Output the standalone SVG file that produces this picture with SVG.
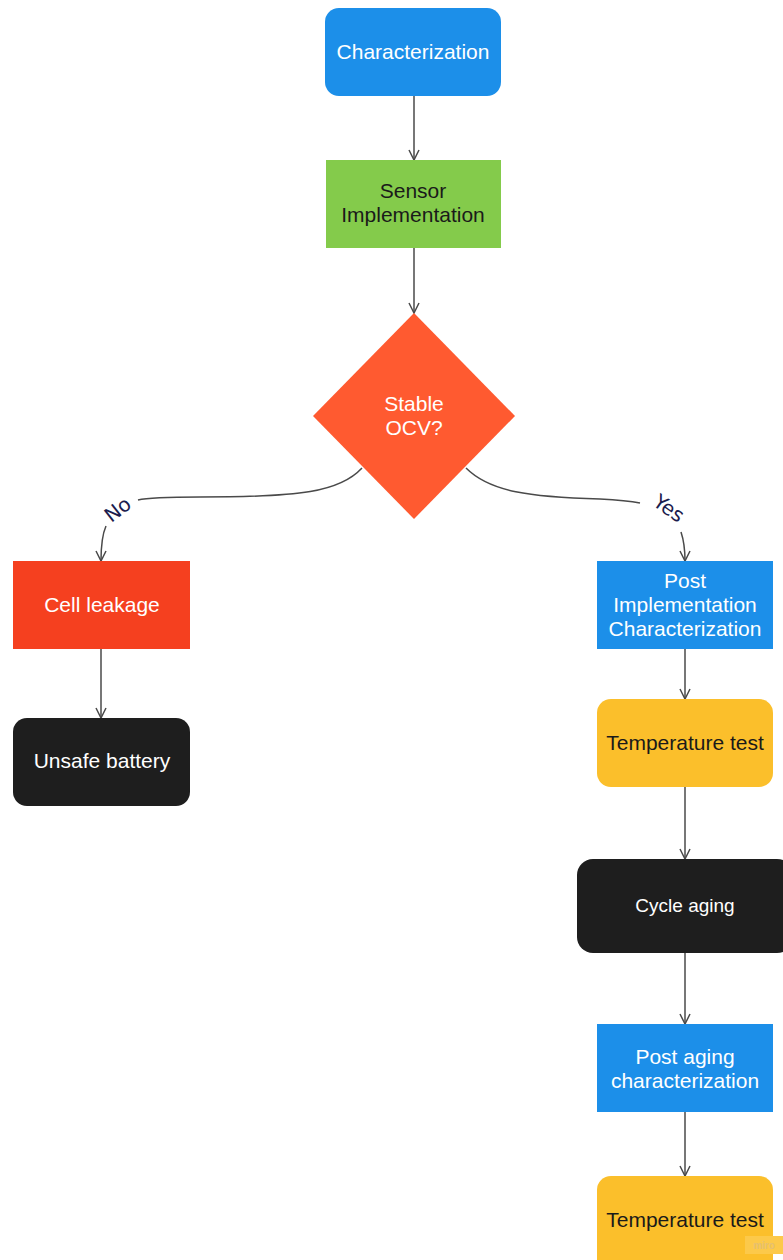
<svg xmlns="http://www.w3.org/2000/svg" width="783" height="1260" viewBox="0 0 783 1260">
<style>
.t{font-family:"Liberation Sans",Arial,sans-serif;font-size:21px;text-anchor:middle}
.w{fill:#ffffff}
.d{fill:#1a1a1a}
.c{fill:none;stroke:#4a4a4a;stroke-width:1.5}
.lbl{font-family:"DejaVu Sans",sans-serif;font-size:20px;fill:#1c1c4e;text-anchor:middle}
</style>
<defs>
<marker id="ah" viewBox="0 0 12 12" refX="11" refY="6" markerWidth="12" markerHeight="12" markerUnits="userSpaceOnUse" orient="auto">
<path d="M1,1 L11,6 L1,11" fill="none" stroke="#4a4a4a" stroke-width="1.5"/>
</marker>
</defs>
<rect width="783" height="1260" fill="#ffffff"/>
<g id="connectors">
<path class="c" d="M414,96 V160" marker-end="url(#ah)"/>
<path class="c" d="M414,248 V313" marker-end="url(#ah)"/>
<path class="c" d="M362,468 C340,492 300,497 200,497 C160,497 146,498 138,500"/>
<path class="c" d="M106,526 C102,535 101,545 101,561" marker-end="url(#ah)"/>
<path class="c" d="M466,468 C490,492 530,497 600,499 C620,500 630,501 640,503"/>
<path class="c" d="M681,532 C684,541 685,550 685,561" marker-end="url(#ah)"/>
<text class="lbl" transform="translate(122,515) rotate(-38)">No</text>
<text class="lbl" transform="translate(665,514) rotate(35)">Yes</text>
<path class="c" d="M101,649 V718" marker-end="url(#ah)"/>
<path class="c" d="M685,649 V699" marker-end="url(#ah)"/>
<path class="c" d="M685,787 V859" marker-end="url(#ah)"/>
<path class="c" d="M685,953 V1024" marker-end="url(#ah)"/>
<path class="c" d="M685,1112 V1176" marker-end="url(#ah)"/>
</g>
<g id="characterization">
<rect x="325" y="8" width="176" height="88" rx="14" fill="#1c8fe9"/>
<text class="t w" x="413" y="59">Characterization</text>
</g>
<g id="sensor-implementation">
<rect x="326" y="160" width="175" height="88" fill="#84cb4b"/>
<text class="t d" x="413" y="198">Sensor</text>
<text class="t d" x="413" y="222">Implementation</text>
</g>
<g id="stable-ocv">
<polygon points="414,313 515,416 414,519 313,416" fill="#ff5a30"/>
<text class="t w" x="414" y="411">Stable</text>
<text class="t w" x="414" y="435">OCV?</text>
</g>
<g id="cell-leakage">
<rect x="13" y="561" width="177" height="88" fill="#f5401f"/>
<text class="t w" x="102" y="612">Cell leakage</text>
</g>
<g id="unsafe-battery">
<rect x="13" y="718" width="177" height="88" rx="14" fill="#1e1e1e"/>
<text class="t w" x="102" y="768">Unsafe battery</text>
</g>
<g id="post-implementation">
<rect x="597" y="561" width="176" height="88" fill="#1c8fe9"/>
<text class="t w" x="685" y="588">Post</text>
<text class="t w" x="685" y="612">Implementation</text>
<text class="t w" x="685" y="636">Characterization</text>
</g>
<g id="temperature-test-1">
<rect x="597" y="699" width="176" height="88" rx="14" fill="#fbbf2b"/>
<text class="t d" x="685" y="750">Temperature test</text>
</g>
<g id="cycle-aging">
<rect x="577" y="859" width="216" height="94" rx="16" fill="#1e1e1e"/>
<text class="t w" x="685" y="912" style="font-size:19px">Cycle aging</text>
</g>
<g id="post-aging">
<rect x="597" y="1024" width="176" height="88" fill="#1c8fe9"/>
<text class="t w" x="685" y="1064">Post aging</text>
<text class="t w" x="685" y="1088">characterization</text>
</g>
<g id="temperature-test-2">
<rect x="597" y="1176" width="176" height="100" rx="14" fill="#fbbf2b"/>
<text class="t d" x="685" y="1227">Temperature test</text>
</g>
<rect x="745" y="1236" width="38" height="18" fill="#fcc94a"/>
<text x="764" y="1249" font-family="Liberation Sans,Arial,sans-serif" font-size="10" font-weight="bold" fill="#e6c070" text-anchor="middle">miro</text>
</svg>
